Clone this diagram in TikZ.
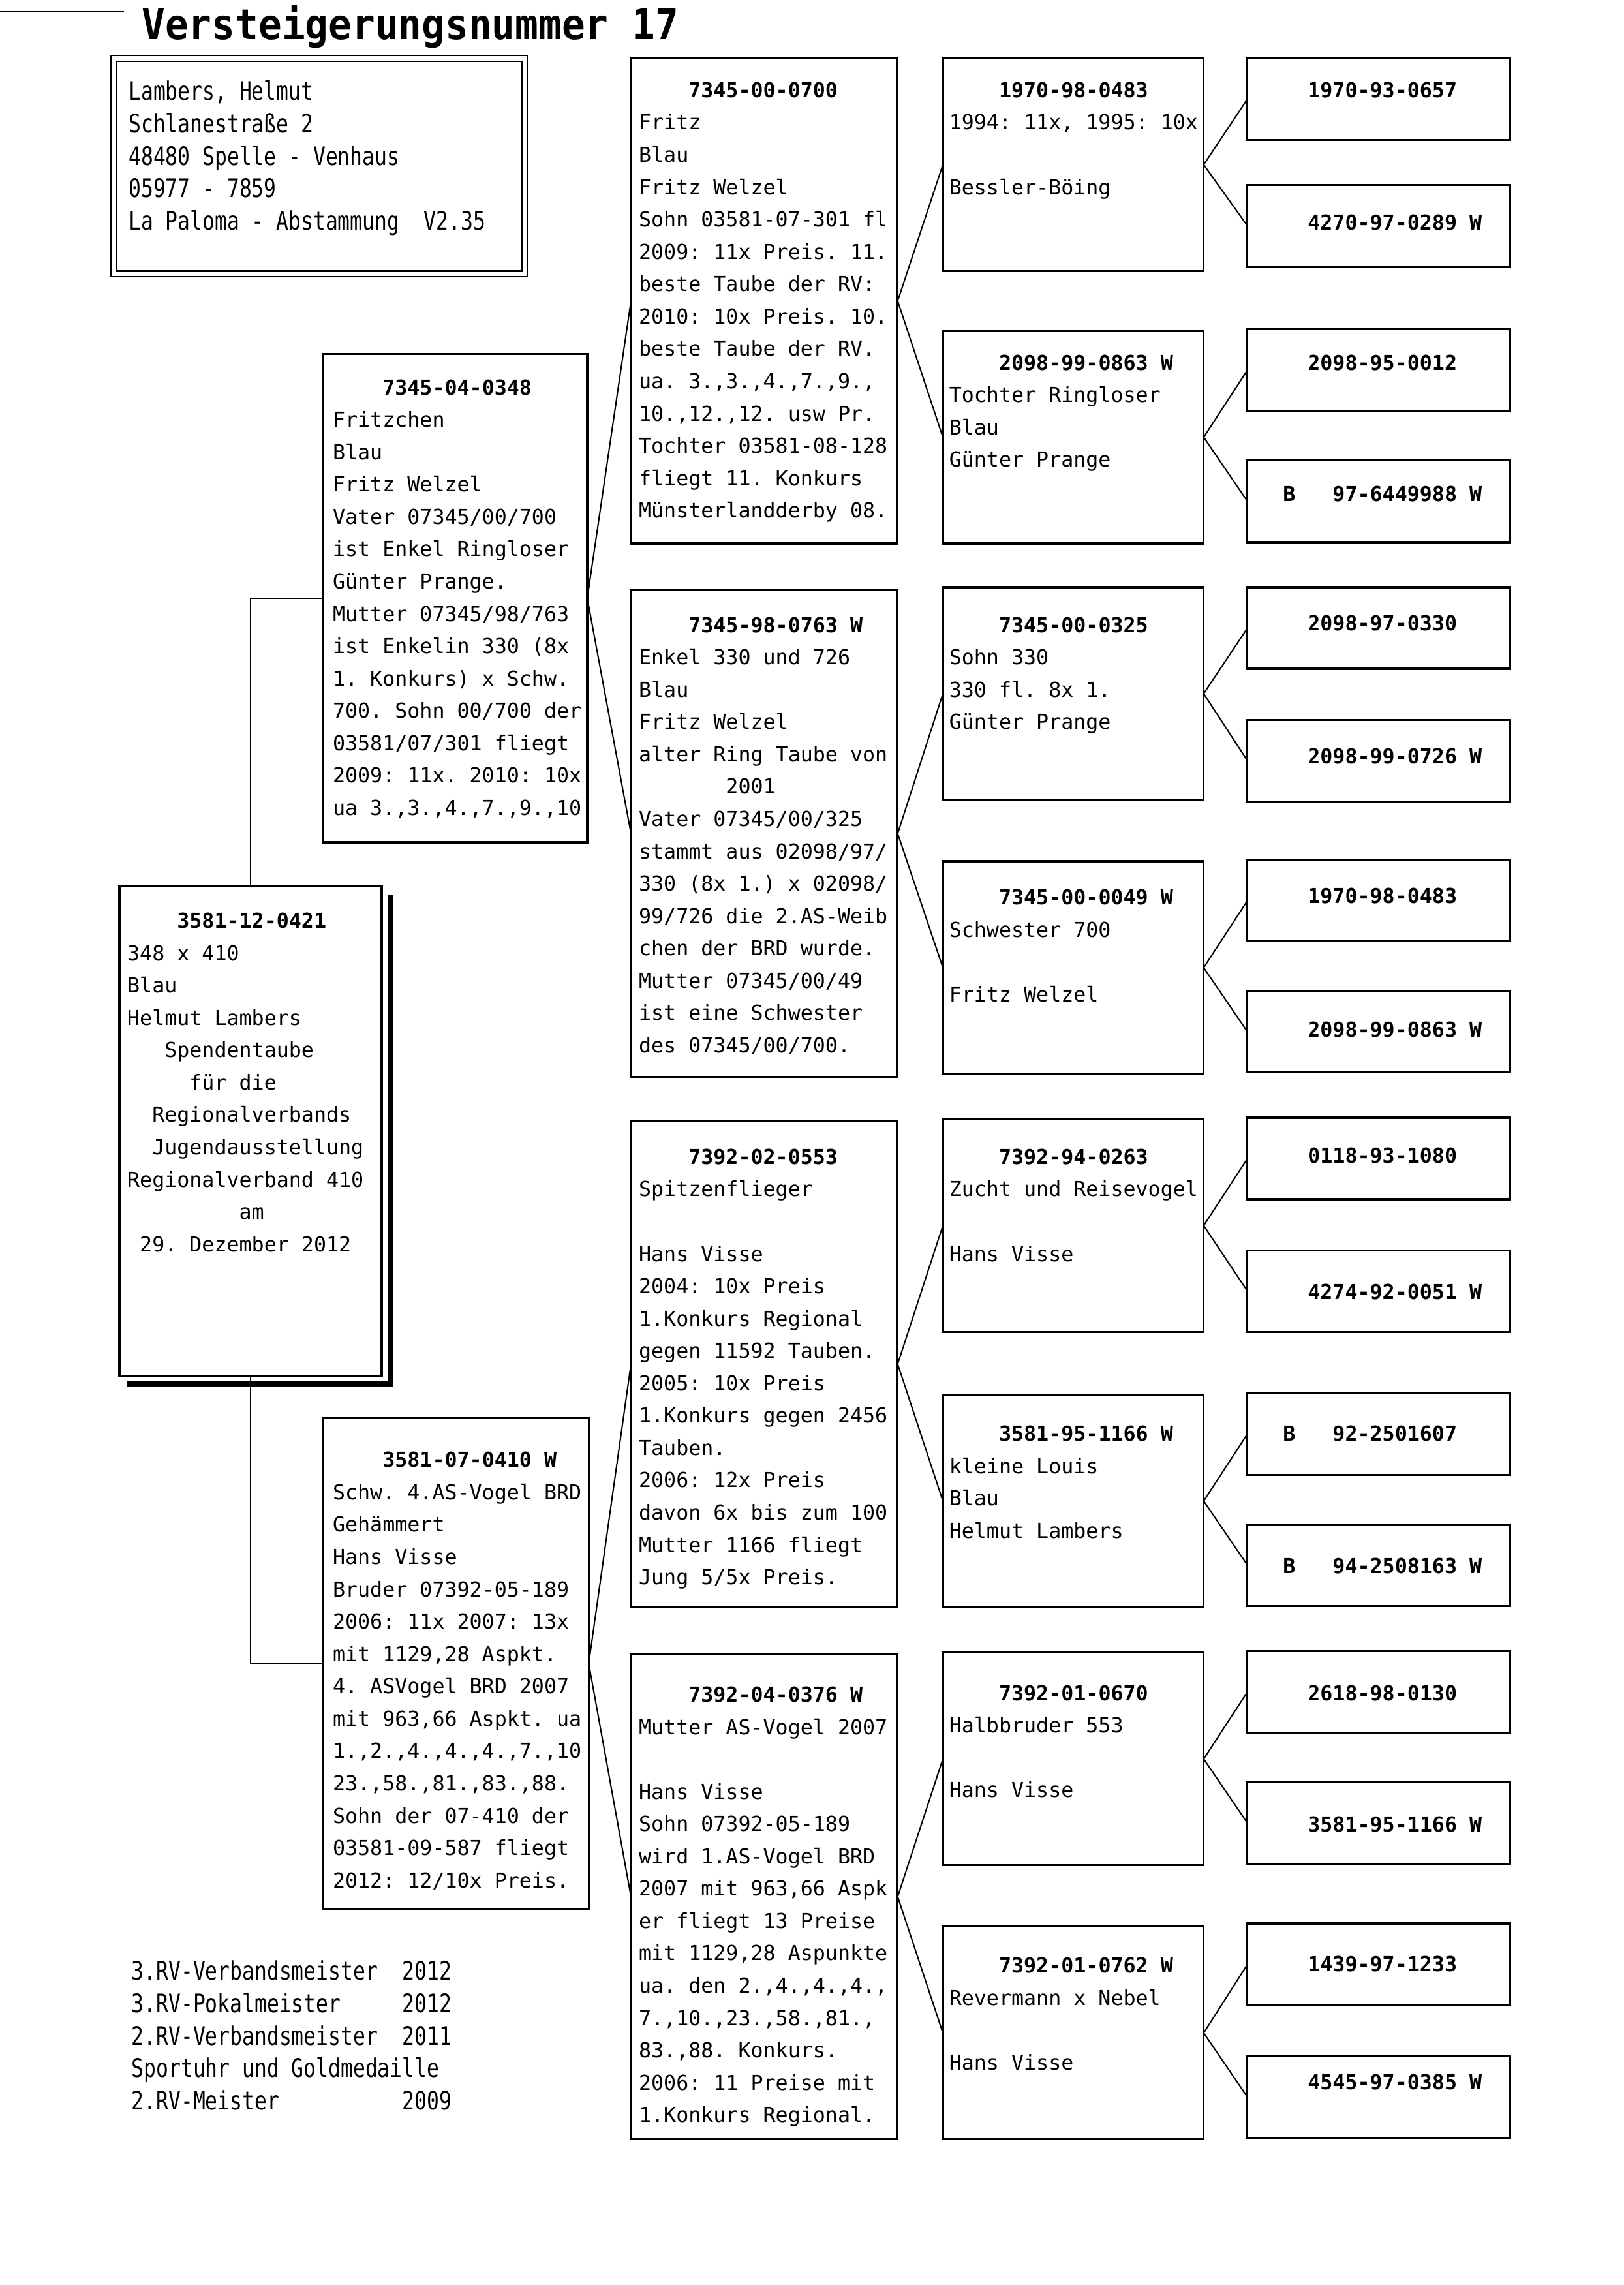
\documentclass[tikz,border=0pt]{standalone}
\usepackage{fontspec}
\newfontfamily\pedfont{DejaVu Sans Mono}
\newfontfamily\condfont[FakeStretch=0.8]{DejaVu Sans Mono}
\newfontfamily\titlefont[FakeStretch=0.92]{DejaVu Sans Mono Bold}
\def\unitpx{0.018851cm}
\frenchspacing
\begin{document}
\begin{tikzpicture}[
        x=0.018851cm, y=-0.018851cm,
        frame/.style={draw, line width=0.8pt, anchor=north west, inner sep=0pt, outer sep=0pt},
        txt/.style={anchor=north west, inner sep=0pt, align=left, font=\pedfont\fontsize{7.6}{11.9}\selectfont\frenchspacing},
        cond/.style={anchor=north west, inner sep=0pt, align=left, font=\condfont\fontsize{9.4}{11.95}\selectfont\frenchspacing},
        conn/.style={line width=0.5pt}
    ]
    \useasboundingbox (0,0) rectangle (1114,1568);

    % Kopf
    \draw[line width=0.6pt] (0,8) -- (85,8);
    \node[anchor=base west, inner sep=0pt, font=\titlefont\fontsize{15.5}{18}\selectfont] (title) at (97,27) {Versteigerungsnummer 17};

    \node[frame, line width=0.5pt, double, double distance=1.6pt, minimum width=282*\unitpx, minimum height=148*\unitpx] (owner) at (78,40) {};
    \node[cond] (ownertxt) at ([shift={(10,15)}]owner.north west) {Lambers, Helmut\\Schlanestraße 2\\48480 Spelle - Venhaus\\05977 - 7859\\La Paloma - Abstammung~~V2.35};

    % Taube
    \node[frame, minimum width=180*\unitpx, minimum height=336*\unitpx] (taube) at (82,608) {};
    \node[txt] (taubetxt) at ([shift={(5,18)}]taube.north west) {~~~~\textbf{3581-12-0421}\\348 x 410\\Blau\\Helmut Lambers\\~~~Spendentaube\\~~~~~für die\\~~Regionalverbands\\~~Jugendausstellung\\Regionalverband 410\\~~~~~~~~~am\\~29. Dezember 2012};
    \draw[line width=2.2pt] ([shift={(6,6)}]taube.north east) -- ([shift={(6,6)}]taube.south east) -- ([shift={(5,6)}]taube.south west);

    % Eltern
    \node[frame, minimum width=181*\unitpx, minimum height=335*\unitpx] (vater) at (222,243) {};
    \node[txt] (vatertxt) at ([shift={(6,17)}]vater.north west) {~~~~\textbf{7345-04-0348}\\Fritzchen\\Blau\\Fritz Welzel\\Vater 07345/00/700\\ist Enkel Ringloser\\Günter Prange.\\Mutter 07345/98/763\\ist Enkelin 330 (8x\\1. Konkurs) x Schw.\\700. Sohn 00/700 der\\03581/07/301 fliegt\\2009: 11x. 2010: 10x\\ua 3.,3.,4.,7.,9.,10};

    \node[frame, minimum width=182*\unitpx, minimum height=337*\unitpx] (mutter) at (222,973) {};
    \node[txt] (muttertxt) at ([shift={(6,23)}]mutter.north west) {~~~~\textbf{3581-07-0410 W}\\Schw. 4.AS-Vogel BRD\\Gehämmert\\Hans Visse\\Bruder 07392-05-189\\2006: 11x 2007: 13x\\mit 1129,28 Aspkt.\\4. ASVogel BRD 2007\\mit 963,66 Aspkt. ua\\1.,2.,4.,4.,4.,7.,10\\23.,58.,81.,83.,88.\\Sohn der 07-410 der\\03581-09-587 fliegt\\2012: 12/10x Preis.};

    % Grosseltern
    \node[frame, minimum width=183*\unitpx, minimum height=333*\unitpx] (c1) at (433,40) {};
    \node[txt] (c1txt) at ([shift={(5,16)}]c1.north west) {~~~~\textbf{7345-00-0700}\\Fritz\\Blau\\Fritz Welzel\\Sohn 03581-07-301 fl\\2009: 11x Preis. 11.\\beste Taube der RV:\\2010: 10x Preis. 10.\\beste Taube der RV.\\ua. 3.,3.,4.,7.,9.,\\10.,12.,12. usw Pr.\\Tochter 03581-08-128\\fliegt 11. Konkurs\\Münsterlandderby 08.};

    \node[frame, minimum width=183*\unitpx, minimum height=334*\unitpx] (c2) at (433,405) {};
    \node[txt] (c2txt) at ([shift={(5,18)}]c2.north west) {~~~~\textbf{7345-98-0763 W}\\Enkel 330 und 726\\Blau\\Fritz Welzel\\alter Ring Taube von\\~~~~~~~2001\\Vater 07345/00/325\\stammt aus 02098/97/\\330 (8x 1.) x 02098/\\99/726 die 2.AS-Weib\\chen der BRD wurde.\\Mutter 07345/00/49\\ist eine Schwester\\des 07345/00/700.};

    \node[frame, minimum width=183*\unitpx, minimum height=334*\unitpx] (c3) at (433,769) {};
    \node[txt] (c3txt) at ([shift={(5,19)}]c3.north west) {~~~~\textbf{7392-02-0553}\\Spitzenflieger\\\mbox{}\\Hans Visse\\2004: 10x Preis\\1.Konkurs Regional\\gegen 11592 Tauben.\\2005: 10x Preis\\1.Konkurs gegen 2456\\Tauben.\\2006: 12x Preis\\davon 6x bis zum 100\\Mutter 1166 fliegt\\Jung 5/5x Preis.};

    \node[frame, minimum width=183*\unitpx, minimum height=333*\unitpx] (c4) at (433,1135) {};
    \node[txt] (c4txt) at ([shift={(5,22)}]c4.north west) {~~~~\textbf{7392-04-0376 W}\\Mutter AS-Vogel 2007\\\mbox{}\\Hans Visse\\Sohn 07392-05-189\\wird 1.AS-Vogel BRD\\2007 mit 963,66 Aspk\\er fliegt 13 Preise\\mit 1129,28 Aspunkte\\ua. den 2.,4.,4.,4.,\\7.,10.,23.,58.,81.,\\83.,88. Konkurs.\\2006: 11 Preise mit\\1.Konkurs Regional.};

    % Urgrosseltern
    \foreach \n/\y/\dy/\t in {
        d1/40/16/{~~~~\textbf{1970-98-0483}\\1994: 11x, 1995: 10x\\\mbox{}\\Bessler-Böing},
        d2/227/16/{~~~~\textbf{2098-99-0863 W}\\Tochter Ringloser\\Blau\\Günter Prange},
        d3/403/20/{~~~~\textbf{7345-00-0325}\\Sohn 330\\330 fl. 8x 1.\\Günter Prange},
        d4/591/19/{~~~~\textbf{7345-00-0049 W}\\Schwester 700\\\mbox{}\\Fritz Welzel},
        d5/768/20/{~~~~\textbf{7392-94-0263}\\Zucht und Reisevogel\\\mbox{}\\Hans Visse},
        d6/957/21/{~~~~\textbf{3581-95-1166 W}\\kleine Louis\\Blau\\Helmut Lambers},
        d7/1134/22/{~~~~\textbf{7392-01-0670}\\Halbbruder 553\\\mbox{}\\Hans Visse},
        d8/1322/21/{~~~~\textbf{7392-01-0762 W}\\Revermann x Nebel\\\mbox{}\\Hans Visse}} {
        \node[frame, minimum width=179*\unitpx, minimum height=146*\unitpx] (\n) at (647,\y) {};
        \node[txt] (t\n) at ([shift={(4,\dy)}]\n.north west) {\t};
    }

    % Ururgrosseltern
    \foreach \n/\y/\dy/\t in {
        e1/40/16/{~~1970-93-0657}, e2/127/20/{~~4270-97-0289 W},
        e3/226/17/{~~2098-95-0012}, e4/316/17/{B~~~97-6449988 W},
        e5/403/19/{~~2098-97-0330}, e6/494/19/{~~2098-99-0726 W},
        e7/590/19/{~~1970-98-0483}, e8/680/21/{~~2098-99-0863 W},
        e9/767/20/{~~0118-93-1080}, e10/858/23/{~~4274-92-0051 W},
        e11/956/22/{B~~~92-2501607}, e12/1046/23/{B~~~94-2508163 W},
        e13/1133/23/{~~2618-98-0130}, e14/1223/23/{~~3581-95-1166 W},
        e15/1320/22/{~~1439-97-1233}, e16/1411/12/{~~4545-97-0385 W}} {
        \node[frame, minimum width=180*\unitpx, minimum height=56*\unitpx] (\n) at (856,\y) {};
        \node[txt, font=\pedfont\bfseries\fontsize{7.6}{11.9}\selectfont] (t\n) at ([shift={(24,\dy)}]\n.north west) {\t};
    }

    % Verbindungen
    \draw[conn] (taube.north) |- (vater.west);
    \draw[conn] (taube.south) |- (mutter.west);
    \draw[conn] (vater.east) -- (c1.west) (vater.east) -- (c2.west);
    \draw[conn] (mutter.east) -- (c3.west) (mutter.east) -- (c4.west);
    \foreach \p/\a/\b in {c1/d1/d2, c2/d3/d4, c3/d5/d6, c4/d7/d8,
        d1/e1/e2, d2/e3/e4, d3/e5/e6, d4/e7/e8, d5/e9/e10, d6/e11/e12, d7/e13/e14, d8/e15/e16}
        \draw[conn] (\p.east) -- (\a.west) (\p.east) -- (\b.west);

    % Erfolge
    \node[cond] (erfolge) at (90,1345) {3.RV-Verbandsmeister~~2012\\3.RV-Pokalmeister~~~~~2012\\2.RV-Verbandsmeister~~2011\\Sportuhr und Goldmedaille\\2.RV-Meister~~~~~~~~~~2009};
\end{tikzpicture}
\end{document}
